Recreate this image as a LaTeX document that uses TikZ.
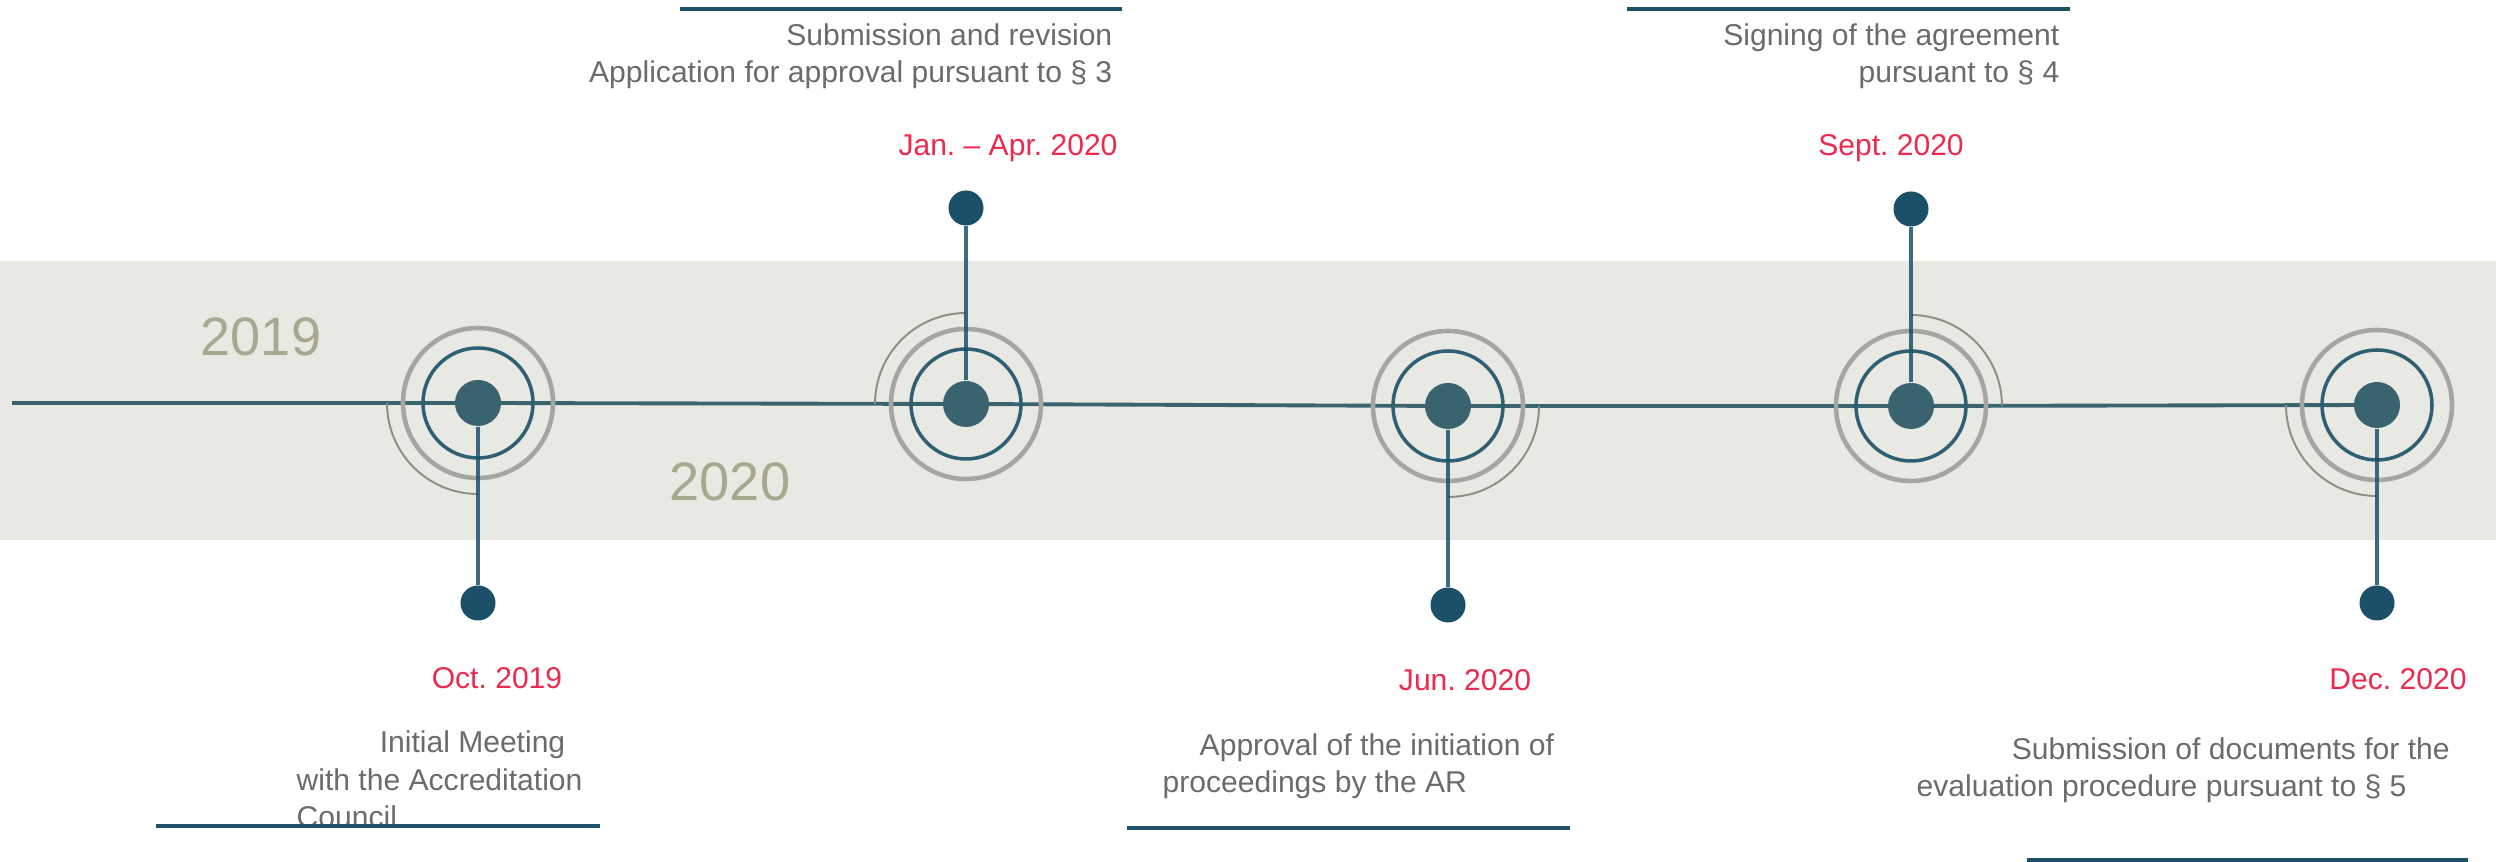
\documentclass[tikz,border=0pt]{standalone}
\usepackage{fontspec}
\setmainfont{Liberation Sans}
\frenchspacing
\definecolor{bandgray}{HTML}{E9E9E3}
\definecolor{axisblue}{HTML}{3A6370}
\definecolor{ringblue}{HTML}{2E5F73}
\definecolor{hubblue}{HTML}{3A6370}
\definecolor{dotblue}{HTML}{1B5068}
\definecolor{barblue}{HTML}{1E5168}
\definecolor{ringgray}{HTML}{A6A6A0}
\definecolor{arcgray}{HTML}{8E8E85}
\definecolor{datered}{HTML}{EC2A4E}
\definecolor{textgray}{HTML}{6B6B6B}
\definecolor{yearolive}{HTML}{A8A88F}
\begin{document}
\begin{tikzpicture}[line join=round, x=0.01cm, y=-0.01cm,
		axis/.style={draw=axisblue, line width=1.1pt},
		stem/.style={draw=dotblue, line width=0.95pt, opacity=0.85},
		hubnode/.style={circle, fill=hubblue, minimum size=0.46cm, inner sep=0pt},
		dotnode/.style={circle, fill=dotblue, minimum size=0.35cm, inner sep=0pt},
		datelabel/.style={text=datered, font=\fontsize{8.55}{10.8}\selectfont, inner sep=0pt},
		desc/.style={text=textgray, font=\fontsize{8.55}{10.8}\selectfont, inner sep=0pt},
		yearlabel/.style={text=yearolive, font=\fontsize{15.4}{18}\selectfont, inner sep=0pt},
		bar/.style={draw=barblue, line width=1pt}]
			\useasboundingbox (0,0) rectangle (2496,862);
			\fill[bandgray] (0,261) rectangle (2496,540);
			
			\node[yearlabel, anchor=base] (y19) at (261,356) {2019};
			\node[yearlabel, anchor=base] (y20) at (730,501) {2020};
			
			\coordinate (start) at (12,403);
			\coordinate (c1) at (478,403);
			\coordinate (c2) at (966,404);
			\coordinate (c3) at (1448,406);
			\coordinate (c4) at (1911,406);
			\coordinate (c5) at (2377,405);
			\draw[axis] (start) -- (c1) -- (c2) -- (c3) -- (c4) -- (c5);
			
			% rings and quarter arcs
			\foreach \c/\a in {c1/90, c2/180, c3/0, c4/270, c5/90} {
				\draw[arcgray, line width=0.55pt] (\c) ++(\a:91) arc[start angle=\a, end angle=\a+90, radius=91];
				\draw[ringgray, line width=1.3pt] (\c) circle[radius=75];
				\draw[ringblue, line width=1pt] (\c) circle[radius=55];
			}
			
			\node[hubnode] (m1) at (c1) {};
			\node[hubnode] (m2) at (c2) {};
			\node[hubnode] (m3) at (c3) {};
			\node[hubnode] (m4) at (c4) {};
			\node[hubnode] (m5) at (c5) {};
			\node[dotnode] (d1) at (478,603) {};
			\node[dotnode] (d2) at (966,208) {};
			\node[dotnode] (d3) at (1448,605) {};
			\node[dotnode] (d4) at (1911,209) {};
			\node[dotnode] (d5) at (2377,603) {};
			\foreach \i in {1,...,5}
				\draw[stem] (m\i) -- (d\i);
			
			\node[desc, align=right, anchor=base east] (t2) at (1113,83) {Submission and revision\\Application for approval pursuant to § 3};
			\node[datelabel, anchor=base] (l2) at (1008,156) {Jan. – Apr. 2020};
			\node[desc, align=right, anchor=base east] (t4) at (2060,83) {Signing of the agreement\\pursuant to § 4};
			\node[datelabel, anchor=base] (l4) at (1891,156) {Sept. 2020};
			
			\node[datelabel, anchor=base] (l1) at (497,689) {Oct. 2019};
			\node[desc, align=left, anchor=base west] (t1) at (296,828) {\hspace*{0.83cm}Initial Meeting\\with the Accreditation\\Council};
			\node[datelabel, anchor=base] (l3) at (1465,691) {Jun. 2020};
			\node[desc, align=left, anchor=base west] (t3) at (1162,793) {\hspace*{0.37cm}Approval of the initiation of\\proceedings by the AR};
			\node[datelabel, anchor=base] (l5) at (2398,690) {Dec. 2020};
			\node[desc, align=left, anchor=base west] (t5) at (1916,797) {\hspace*{0.95cm}Submission of documents for the\\evaluation procedure pursuant to § 5};
			
			\draw[bar] (680,9) -- (1122,9);
			\draw[bar] (1627,9) -- (2070,9);
			\draw[bar] (156,826) -- (600,826);
			\draw[bar] (1127,828) -- (1570,828);
			\draw[bar] (2027,860) -- (2468,860);
		\end{tikzpicture}
\end{document}
